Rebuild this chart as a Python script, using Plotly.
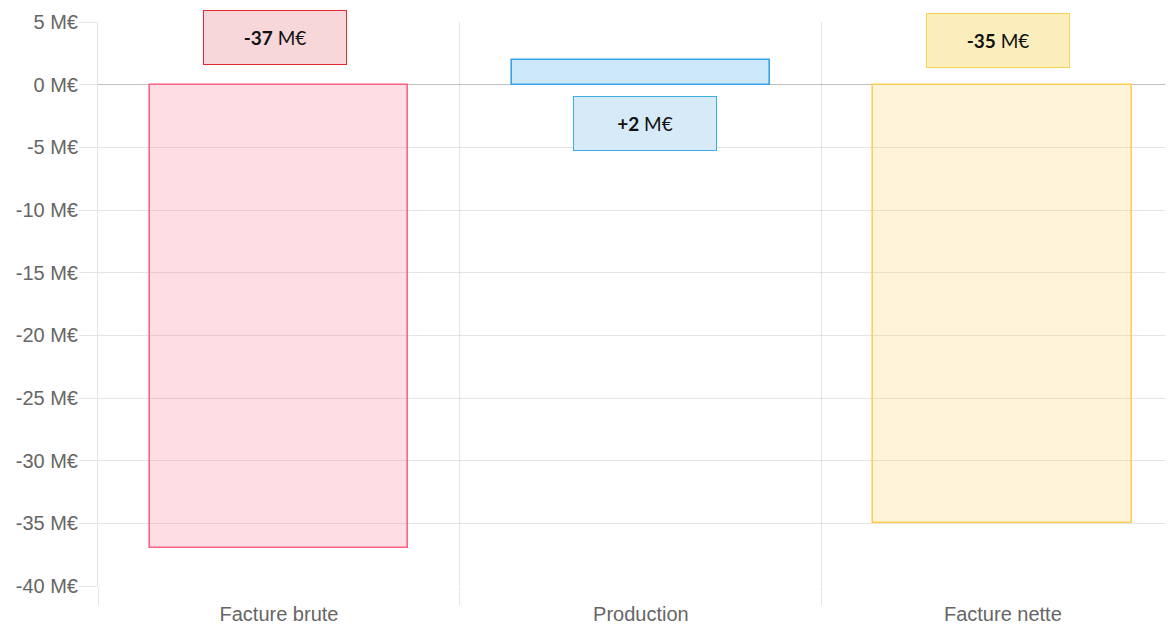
import plotly.graph_objects as go

categories = ["Facture brute", "Production", "Facture nette"]
values = [-37, 2, -35]
y_ticks = [5, 0, -5, -10, -15, -20, -25, -30, -35, -40]

fill_colors = ["rgba(255,99,132,0.22)", "rgba(54,162,235,0.25)", "rgba(255,206,86,0.22)"]
line_colors = ["rgb(255,99,132)", "rgb(54,162,235)", "rgb(255,206,86)"]
box_fills = ["rgb(248,215,219)", "rgb(214,234,248)", "rgb(251,238,188)"]
box_borders = ["rgb(232,40,45)", "rgb(60,176,228)", "rgb(248,212,80)"]
box_shift = [(-4, 47), (4, -39), (-5, 44)]

xs = list(range(len(categories)))

fig = go.Figure()
fig.add_trace(go.Bar(
    x=xs, y=values, width=0.715,
    marker=dict(color=fill_colors, line=dict(color=line_colors, width=1.6)),
    hoverinfo="skip",
))

for i, v in enumerate(values):
    label = f"<b>{v:+d}</b> M€"
    fig.add_annotation(
        x=xs[i], y=0, xref="x", yref="y",
        text=label, showarrow=False,
        xshift=box_shift[i][0], yshift=box_shift[i][1],
        width=142, height=53, borderpad=0, borderwidth=1,
        bgcolor=box_fills[i], bordercolor=box_borders[i],
        font=dict(family="Lato, Open Sans, sans-serif", size=19, color="#111"),
        align="center", valign="middle",
    )

# page body has an 8px margin: shrink the figure so it fits the 1173x626 window
fig.update_layout(
    width=1165, height=618,
    margin=dict(l=90, r=0, t=14, b=40),
    paper_bgcolor="white", plot_bgcolor="white",
    showlegend=False,
    font=dict(family="Liberation Sans, Arial, sans-serif", size=20, color="#666"),
    bargap=0,
)
fig.update_xaxes(
    range=[-0.5, 2.47],
    tickvals=xs, ticktext=categories,
    showgrid=False, zeroline=False, showline=False,
    ticks="outside", ticklen=10, tickcolor="rgba(0,0,0,0)",
    minor=dict(tickvals=[-0.5, 0.5, 1.5, 2.5], showgrid=True,
               gridcolor="rgba(0,0,0,0.1)", gridwidth=1,
               ticks="outside", ticklen=18, tickcolor="rgba(0,0,0,0.1)"),
    tickfont=dict(size=20, color="#666"),
)
fig.update_yaxes(
    range=[-40, 5],
    tickvals=y_ticks, ticktext=[f"{t} M€" for t in y_ticks],
    showgrid=True, gridcolor="rgba(0,0,0,0.1)", gridwidth=1,
    zeroline=True, zerolinecolor="rgba(0,0,0,0.25)", zerolinewidth=1,
    showline=True, linecolor="rgba(0,0,0,0.1)", linewidth=1,
    ticks="outside", ticklen=18, tickcolor="rgba(0,0,0,0.1)",
    ticklabelstandoff=-3,
    tickfont=dict(size=20, color="#666"),
)

fig.write_html("out.html")
